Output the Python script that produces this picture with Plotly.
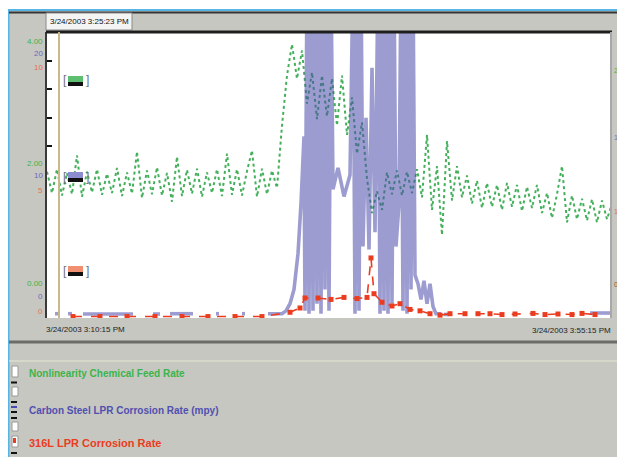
import plotly.graph_objects as go

# ---------------- data ----------------
# time axis: elapsed minutes over the displayed window
green_t = list(range(0, 566, 5))
green_v = [1.86, 1.52, 1.90, 1.48, 1.84, 1.50, 2.12, 1.46, 1.86, 1.53,
           1.90, 1.49, 1.83, 1.52, 1.92, 1.47, 1.85, 1.51, 2.18, 1.44,
           1.88, 1.50, 1.93, 1.48, 1.84, 1.38, 2.10, 1.47, 1.89, 1.51,
           1.91, 1.46, 1.85, 1.52, 1.90, 1.47, 2.15, 1.49, 1.90, 1.48,
           1.87, 2.20, 1.46, 1.91, 1.50, 1.88,
           1.60, 2.60, 3.40, 3.90, 3.35, 3.80, 2.95, 3.45, 2.70, 3.40,
           2.75, 3.35, 2.60, 3.40, 2.45, 3.05, 2.15, 2.65, 1.75, 1.20,
           1.55, 1.25, 1.85, 1.50, 1.88, 1.48, 1.86, 1.52, 1.90, 1.45,
           2.45, 1.25, 1.95, 0.85, 2.35, 1.40, 1.95, 1.45, 1.80, 1.35,
           1.72, 1.28, 1.68, 1.30, 1.65, 1.25, 1.68, 1.30, 1.65, 1.23,
           1.62, 1.28, 1.65, 1.20, 1.52, 1.12, 1.50, 1.95, 1.05, 1.48,
           1.10, 1.43, 1.08, 1.42, 1.05, 1.40, 1.10, 1.35]

blue_t = [8, 12, None, 21, 25, None, 36, 86, None, 106, 113, None, 123, 146, None,
          169, 172, None, 195, 198, None, 221, 235, 239, 243, 247, 251, 254, 257, 258,
          260, 262, 264, 266, 268, 270, 272, 274, 276, 278, 280, 282, 284, 286,
          291, 297, 303, 306, 308, 310, 312, 314, 316, 319, 322, 325, 328,
          331, 333, 335, 337, 339, 341, 343, 345, 347, 349, 352,
          354, 356, 358, 360, 362, 364, 366, 368, 371, 374, 377, 380, 383, 386,
          389, 394, None, 397, 402, None, 543, 565]
blue_v = [0.3, 0.3, None, 0.3, 0.3, None, 0.28, 0.28, None, 0.28, 0.28, None, 0.3, 0.3, None,
          0.3, 0.3, None, 0.3, 0.3, None, 0.3, 0.3, 0.5, 1.0, 2.0, 4.5, 8.0, 12.7, 0.5,
          24, 0.3, 24, 0.5, 24, 1.0, 24, 0.3, 24, 2.0, 24, 0.5, 24, 9.0,
          10.5, 8.5, 10.0, 24, 0.3, 24, 0.5, 24, 5.0, 14.0, 4.8, 17.5, 6.0,
          24, 0.3, 24, 0.5, 24, 0.3, 24, 1.0, 24, 5.0, 8.0,
          24, 0.5, 24, 0.3, 24, 2.0, 24, 3.0, 2.4, 1.3, 2.6, 1.0, 2.4, 0.8,
          0.3, 0.3, None, 0.25, 0.25, None, 0.35, 0.35]

red_t = [26, 53, 80, 108, 135, 161, 188, 215, 243, 253, 258, 271, 284, 297, 310,
         320, 324, 327, 335, 345, 353, 363, 373, 383, 393, 403, 418, 431, 443,
         455, 468, 486, 498, 511, 525, 535, 548]
red_v = [0.05, 0.05, 0.05, 0.05, 0.05, 0.05, 0.05, 0.05, 0.2, 0.35, 0.7, 0.7, 0.65, 0.72, 0.68,
         0.72, 2.1, 0.85, 0.55, 0.42, 0.5, 0.3, 0.25, 0.15, 0.1, 0.15, 0.15, 0.15, 0.15,
         0.12, 0.14, 0.16, 0.12, 0.14, 0.12, 0.16, 0.12]

series_names = ["Nonlinearity Chemical Feed Rate",
                "Carbon Steel LPR Corrosion Rate (mpy)",
                "316L LPR Corrosion Rate"]
header_time = "3/24/2003 3:25:23 PM"
start_label = "3/24/2003 3:10:15 PM"
end_label = "3/24/2003 3:55:15 PM"
left_labels_green = ["4.00", "2.00", "0.00"]
left_labels_blue = ["20", "10", "0"]
left_labels_red = ["10", "5", "0"]
right_labels = ["22", "14", "10", "0"]

GREEN = "#3cb44a"
RED = "#ec3c20"
GRAY = "#c6c7c1"
FONT = "Liberation Sans"

# The page body adds an 8 px margin, so the figure covers page pixels 8..625 x 8..457.
OFF = 8
W, H = 625 - OFF, 457 - OFF

# ---------------- figure ----------------
fig = go.Figure()
fig.add_trace(go.Scatter(x=green_t, y=green_v, mode="lines", yaxis="y",
                         line=dict(color="#45b05c", width=2, dash="dot"),
                         name=series_names[0]))
fig.add_trace(go.Scatter(x=blue_t, y=blue_v, mode="lines", yaxis="y2",
                         line=dict(color="rgba(75,75,172,0.55)", width=3.6),
                         connectgaps=False, name=series_names[1]))
fig.add_trace(go.Scatter(x=red_t, y=red_v, mode="lines+markers", yaxis="y3",
                         line=dict(color=RED, width=1.6, dash="dash"),
                         marker=dict(color=RED, size=5, symbol="square"),
                         name=series_names[2]))

# plot area in page pixels
PL, PR, PT, PB = 47, 612, 32, 318


def X(px):
    return (px - PL) / (PR - PL)


def Y(py):
    return (PB - py) / (PB - PT)


shapes = []


def rect(x0, y0, x1, y1, fill, line=None, lw=0):
    shapes.append(dict(type="rect", xref="paper", yref="paper",
                       x0=X(x0), x1=X(x1), y0=Y(y1), y1=Y(y0),
                       fillcolor=fill, line=dict(color=line or fill, width=lw),
                       layer="above"))


def hline(x0, x1, py, color, w):
    shapes.append(dict(type="line", xref="paper", yref="paper",
                       x0=X(x0), x1=X(x1), y0=Y(py), y1=Y(py),
                       line=dict(color=color, width=w), layer="above"))


def vline(px, y0, y1, color, w):
    shapes.append(dict(type="line", xref="paper", yref="paper",
                       x0=X(px), x1=X(px), y0=Y(y0), y1=Y(y1),
                       line=dict(color=color, width=w), layer="above"))


# window frame
rect(0, 0, 625, 10, "white")
hline(8, 625, 10, "#58b4e4", 2)
vline(8.5, 10, 457, "#58b4e4", 2)
hline(9, 625, 12.5, "#353535", 2)
# header time box
rect(46, 13, 132, 30, "#f4f4f4", "#8a8a8a", 1)
# plot top border and right shadow
hline(46, 612, 32, "#1e1e1e", 3)
vline(611, 32, 318, "#a8a8a8", 2)
# bottom separator + legend area line
hline(9, 625, 342, "#6a6c6a", 3)
hline(9, 625, 361, "#e6e8d0", 1)

# in-chart marker tags
for py0, col in [(76, "#5cc070"), (172, "#8c8cd0"), (266, "#f09070")]:
    rect(68, py0, 83, py0 + 6, col)
    rect(68, py0 + 6, 83, py0 + 10, "#111111")

# legend check boxes / line samples
for y0, y1 in [(366, 377), (387, 396), (422, 431), (436, 447)]:
    rect(12, y0, 18, y1, "white", "#9a9a9a", 1)
rect(13, 438, 16, 443, RED)
for py in [382.5, 402, 412, 418, 453]:
    hline(11, 17, py, "#111111", 2)
hline(11, 17, 407, "#4848b0", 2)

# cursor line (at t = 12)
shapes.append(dict(type="line", xref="x", yref="paper", x0=12, x1=12, y0=0, y1=1,
                   line=dict(color="#c9b98a", width=2), layer="above"))

ann = []


def text(px, py, s, color, size=8, anchor="left", bold=False):
    ann.append(dict(xref="paper", yref="paper", x=X(px), y=Y(py),
                    text=("<b>%s</b>" % s) if bold else s,
                    showarrow=False, xanchor=anchor, yanchor="middle",
                    font=dict(family=FONT, size=size, color=color), borderpad=0))


text(89, 21.5, header_time, "#111111", 8, "center")
text(45, 329, start_label, "#222222", 8, "left")
text(612, 330, end_label, "#222222", 8, "right")

for py, s in zip([41, 163, 283], left_labels_green):
    text(44, py, s, GREEN, 8, "right")
for py, s in zip([54, 175, 296], left_labels_blue):
    text(44, py, s, "#6a6ac0", 8, "right")
for py, s in zip([68, 190, 311], left_labels_red):
    text(44, py, s, "#e87050", 8, "right")

for py, s, c in zip([70, 137, 211, 284], right_labels, [GREEN, "#7070c0", "#e07050", "#a0502a"]):
    text(613, py, s, c, 7, "left")

for py in [80, 177, 271]:
    text(65, py, "[", "#707070", 12, "center")
    text(87, py, "]", "#707070", 12, "center")

text(28, 373, series_names[0], GREEN, 10, "left", True)
text(28, 410, series_names[1], "#5050b0", 10, "left", True)
text(28, 443, series_names[2], RED, 11, "left", True)

fig.update_layout(
    width=W, height=H,
    margin=dict(l=PL - OFF, r=625 - PR, t=PT - OFF, b=457 - PB),
    paper_bgcolor=GRAY, plot_bgcolor="white",
    showlegend=False,
    shapes=shapes, annotations=ann,
    xaxis=dict(range=[0, 565], showgrid=False, zeroline=False, showticklabels=False,
               ticks="", showline=False, fixedrange=True),
    yaxis=dict(range=[-0.48, 4.096], visible=False, fixedrange=True),
    yaxis2=dict(range=[0, 20], overlaying="y", visible=False, fixedrange=True),
    yaxis3=dict(range=[0, 10], overlaying="y", side="left", showgrid=False, zeroline=False,
                showticklabels=False, showline=True, linecolor="#3a3a3a", linewidth=2,
                ticks="inside", tickvals=[6, 7, 8, 9], ticklen=5, tickcolor="#111111",
                tickwidth=2, fixedrange=True),
)

fig.write_html("out.html")
